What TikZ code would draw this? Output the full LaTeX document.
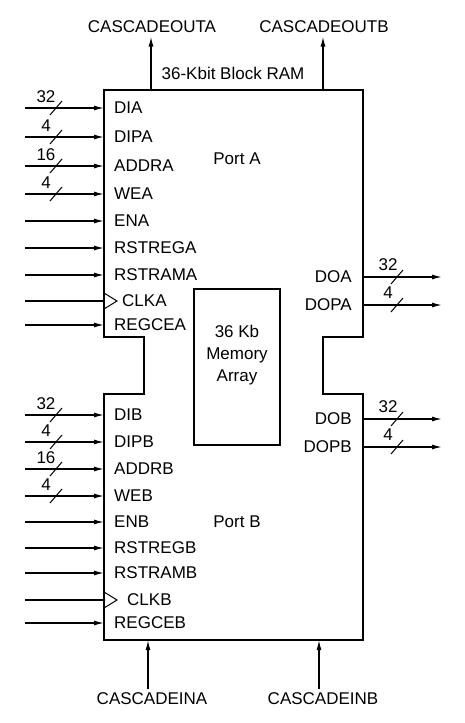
\documentclass[tikz,border=0pt]{standalone}
\usepackage{fontspec}
\setmainfont{Liberation Sans}
\usetikzlibrary{arrows.meta}

\tikzset{
  sig/.style={line width=1.3pt, -{Latex[length=10pt,width=5pt]}},
  wire/.style={line width=1.3pt},
  slash/.style={line width=1pt},
  pinlbl/.style={anchor=west, inner sep=0pt},
  outlbl/.style={anchor=east, inner sep=0pt},
  buslbl/.style={inner sep=0pt},
}

\begin{document}
\begin{tikzpicture}[x=1pt, y=-1pt, font=\fontsize{17}{20}\selectfont]
    \useasboundingbox (0,0) rectangle (464,723);

    % 1. Block outline with the two notches
    \draw[line width=2.5pt, line join=miter]
        (104,90) -- (363,90) -- (363,337) -- (323,337) -- (323,394) -- (363,394)
        -- (363,640) -- (104,640) -- (104,394) -- (144,394) -- (144,337)
        -- (104,337) -- cycle;
    \node (title) at (233,73) {36-Kbit Block RAM};
    \node (porta) at (237,159) {Port A};
    \node (portb) at (237,522) {Port B};

    % 2. Memory array
    \node[draw, line width=1.8pt, minimum width=86pt, minimum height=156pt] (mem) at (237,367) {};
    \node[align=center, font=\fontsize{17}{22}\selectfont] (memlbl) at (237,355) {36 Kb\\Memory\\Array};

    % 3. Inputs on the left
    \foreach \pin/\y in {DIA/108, DIPA/137, ADDRA/166, WEA/194, ENA/221, RSTREGA/248, RSTRAMA/275, REGCEA/325,
                         DIB/415, DIPB/442, ADDRB/469, WEB/496, ENB/522, RSTREGB/548, RSTRAMB/573, REGCEB/623} {
        \coordinate (\pin-in) at (25,\y);
        \coordinate (\pin-pin) at (104,\y);
        \node[pinlbl] (\pin) at (114,\y) {\pin};
        \draw[sig] (\pin-in) -- (\pin-pin);
    }

    % 4. Clock inputs
    \foreach \pin/\y/\dx in {CLKA/301/122, CLKB/600/127} {
        \coordinate (\pin-in) at (25,\y);
        \coordinate (\pin-pin) at (104,\y);
        \node[pinlbl] (\pin) at (\dx,\y) {\pin};
        \draw[wire] (\pin-in) -- (\pin-pin);
        \draw[line width=1pt] ([yshift=8pt]\pin-pin) -- ++(13,8) -- ++(-13,8);
    }

    % 5. Bus widths on the inputs
    \foreach \pin/\w in {DIA/32, DIPA/4, ADDRA/16, WEA/4, DIB/32, DIPB/4, ADDRB/16, WEB/4} {
        \draw[slash] ([xshift=31pt]\pin-in) ++(-6,7) -- ++(12,-14);
        \node[buslbl] (\pin-w) at ([xshift=21pt, yshift=11pt]\pin-in) {\w};
    }

    % 6. Outputs on the right
    \foreach \pin/\y/\w in {DOA/277/32, DOPA/305/4, DOB/419/32, DOPB/447/4} {
        \coordinate (\pin-pin) at (363,\y);
        \coordinate (\pin-out) at (442,\y);
        \node[outlbl] (\pin) at (352,\y) {\pin};
        \draw[sig] (\pin-pin) -- (\pin-out);
        \draw[slash] ([xshift=34pt]\pin-pin) ++(-6,7) -- ++(12,-14);
        \node[buslbl] (\pin-w) at ([xshift=25pt, yshift=12pt]\pin-pin) {\w};
    }

    % 7. Cascade ports
    \node (couta) at (152,27) {CASCADEOUTA};
    \node (coutb) at (324,27) {CASCADEOUTB};
    \node (cina) at (152,699) {CASCADEINA};
    \node (cinb) at (323,699) {CASCADEINB};
    \coordinate (couta-pin) at (151,90);
    \coordinate (coutb-pin) at (323,90);
    \coordinate (cina-pin) at (148,640);
    \coordinate (cinb-pin) at (319,640);
    \draw[sig] (couta-pin) -- (couta-pin |- couta.south);
    \draw[sig] (coutb-pin) -- (coutb-pin |- coutb.south);
    \draw[sig] (cina-pin |- cina.north) -- (cina-pin);
    \draw[sig] (cinb-pin |- cinb.north) -- (cinb-pin);
\end{tikzpicture}
\end{document}
